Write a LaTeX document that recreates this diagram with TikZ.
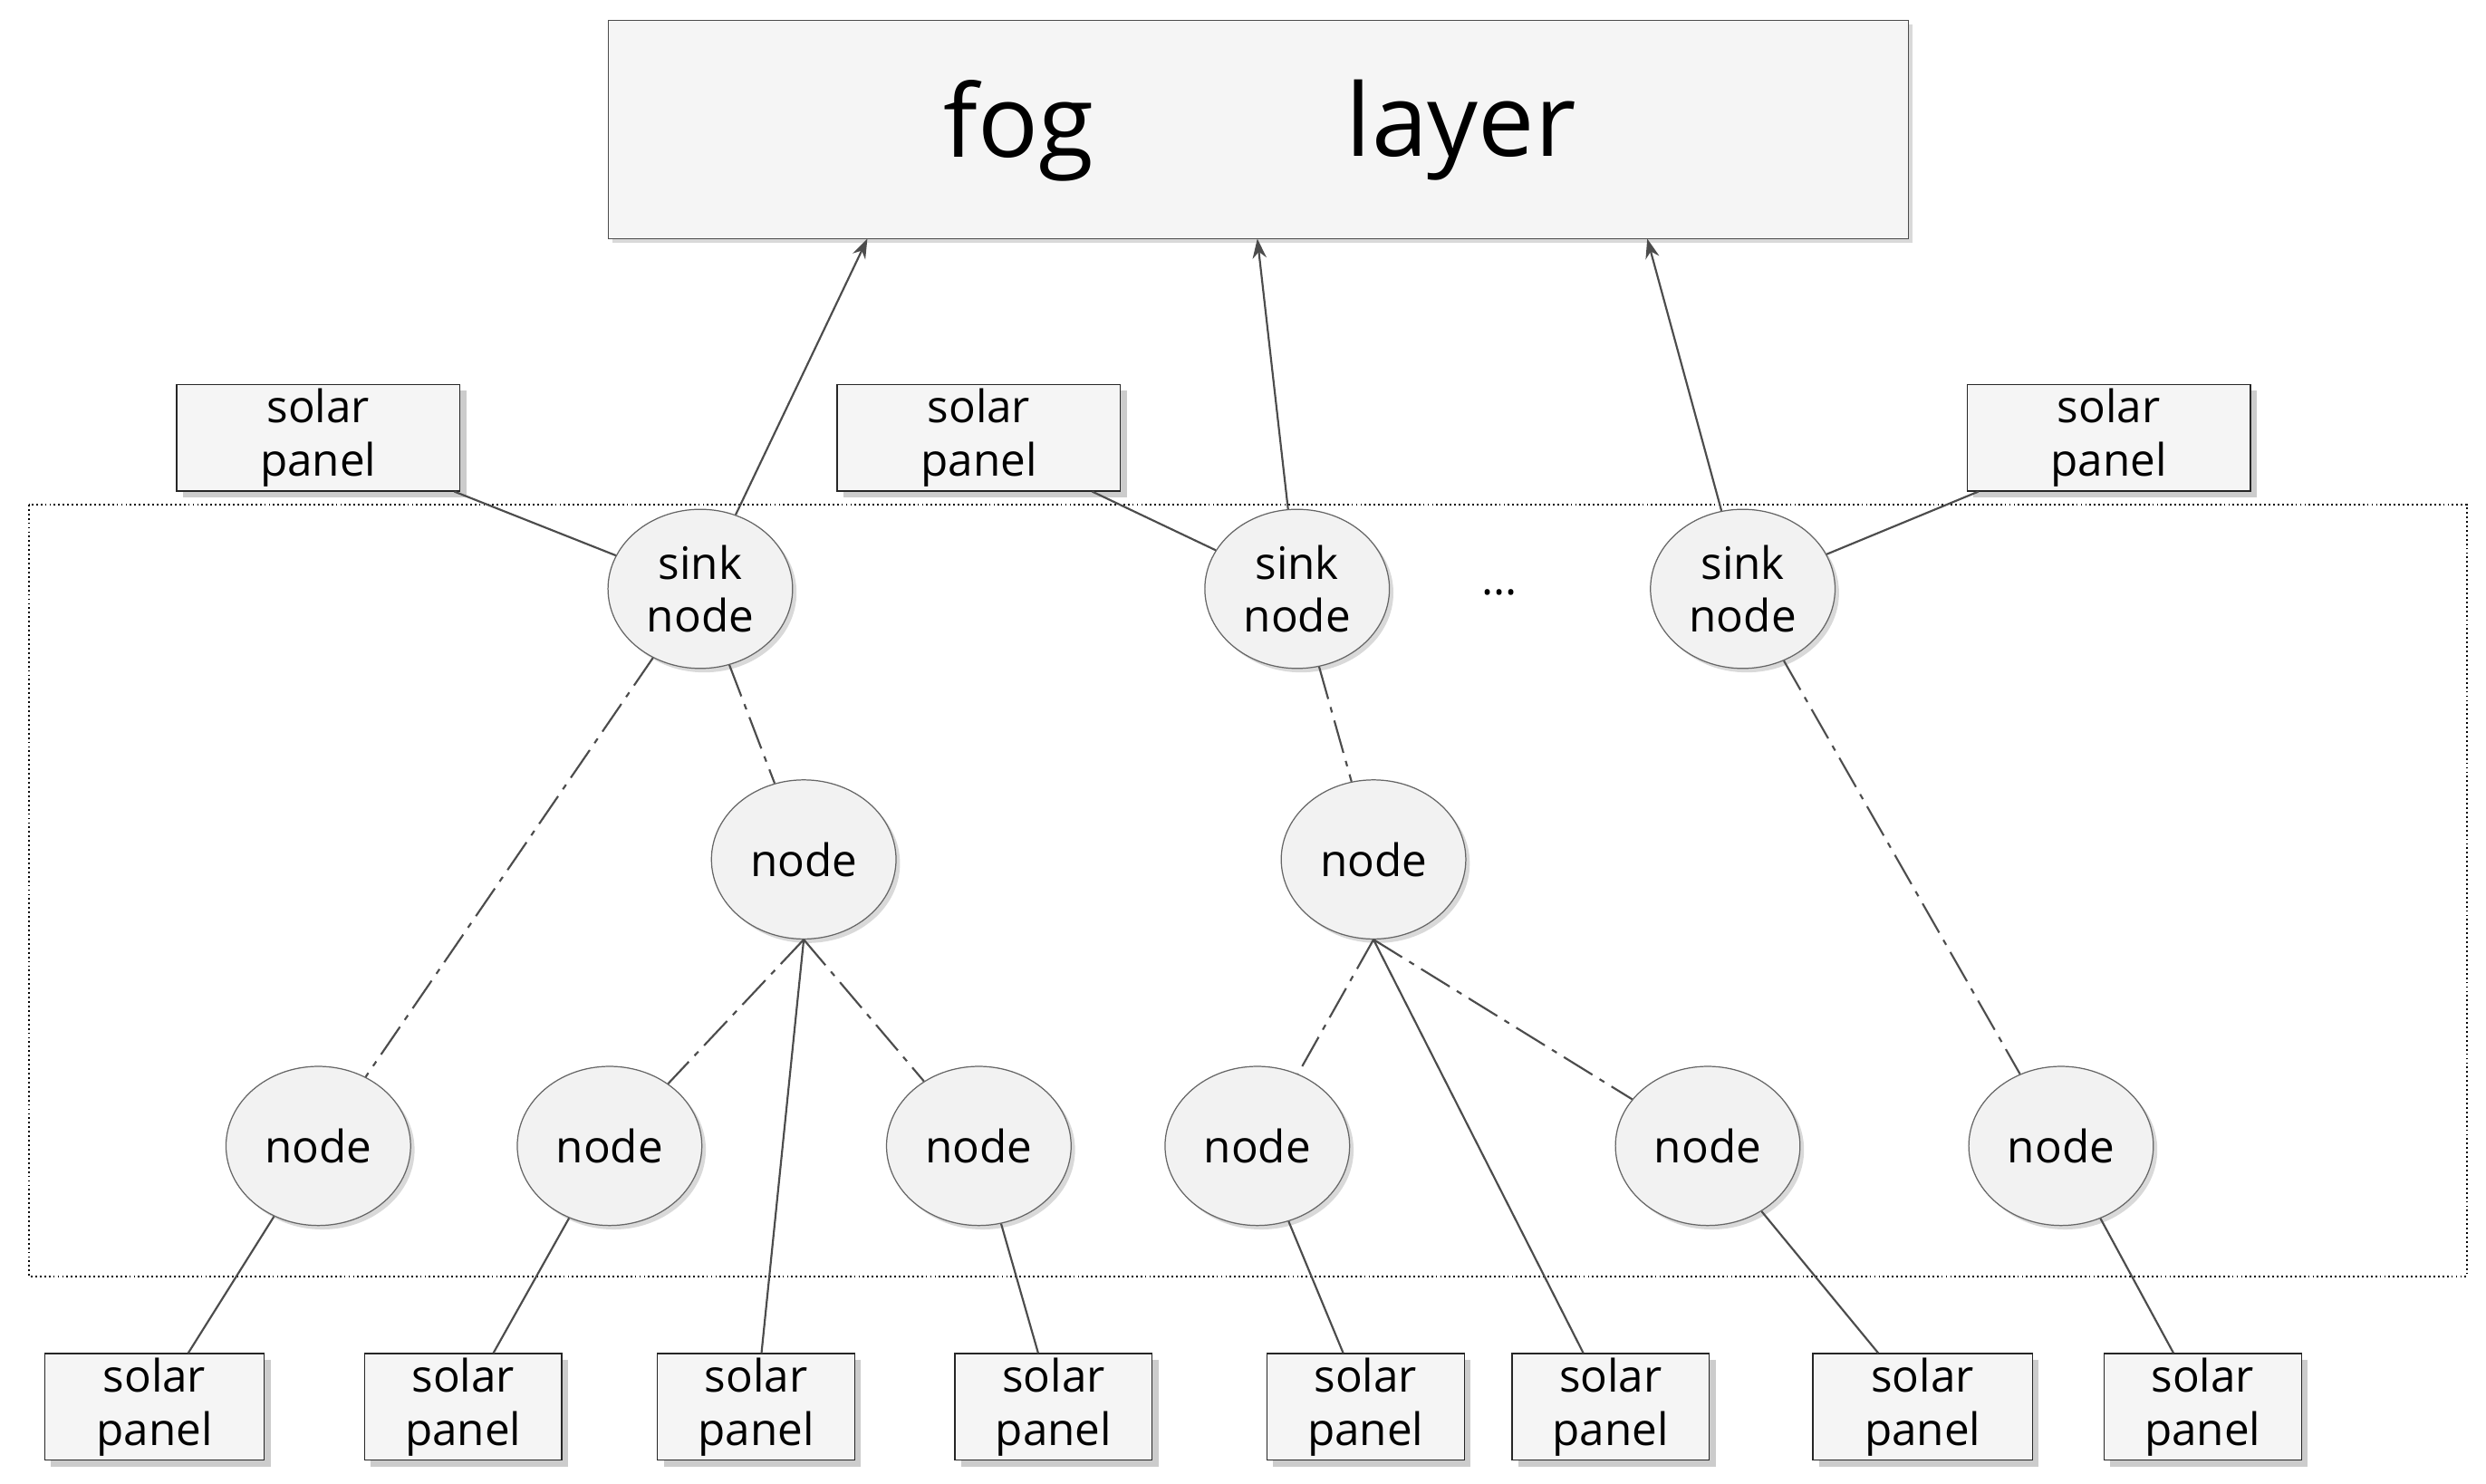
\documentclass[tikz,border=0pt]{standalone}
\usepackage{fontspec}
\setmainfont{Open Sans}
\usetikzlibrary{shapes.geometric,shadows,arrows.meta}
\begin{document}
\begin{tikzpicture}[x=0.02cm,y=-0.02cm,
  nd/.style={ellipse,draw=gray!80!black,fill=gray!10,inner sep=0pt,
     minimum width=2.32cm,minimum height=2.0cm,align=center,font=\fontsize{16}{19}\selectfont,
     drop shadow={shadow xshift=0.5mm,shadow yshift=-0.5mm,opacity=0.3}},
  sp/.style={rectangle,draw=gray!30!black,fill=gray!8,minimum height=1.34cm,inner sep=0pt,align=center,
     font=\fontsize{16}{19}\selectfont,
     drop shadow={shadow xshift=0.8mm,shadow yshift=-0.8mm,opacity=0.4}},
  sol/.style={draw=gray!60!black,line width=0.7pt},
  dd/.style={draw=gray!60!black,line width=0.7pt,dash pattern=on 12pt off 3pt on 2pt off 3pt},
  arr/.style={sol,-{Stealth[length=7pt,width=5pt]}}]
\useasboundingbox (0,0) rectangle (1562,932);
\node[rectangle,draw=gray!60!black,fill=gray!8,minimum width=16.34cm,minimum height=2.74cm,
  drop shadow={shadow xshift=0.5mm,shadow yshift=-0.5mm,opacity=0.3}] (fog) at (790.5,81.5) {};
\node[font=\fontsize{36}{36}\selectfont] (t1) at (640,82) {fog};
\node[font=\fontsize{36}{36}\selectfont] (t2) at (918,82) {layer};
\draw[densely dotted,line width=0.6pt] (18,317) rectangle (1550,802);
\coordinate (f1) at (545,150); \coordinate (f2) at (790,150); \coordinate (f3) at (1035,150);
\node[nd] (s1) at (440,370) {sink\\node};
\node[nd] (s2) at (815,370) {sink\\node};
\node[nd] (s3) at (1095,370) {sink\\node};
\node[font=\fontsize{16}{16}\selectfont] (dots) at (942,372) {...};
\node[nd] (m1) at (505,540) {node};
\node[nd] (m2) at (863,540) {node};
\node[nd] (b1) at (200,720) {node};
\node[nd] (b2) at (383,720) {node};
\node[nd] (b3) at (615,720) {node};
\node[nd] (b4) at (790,720) {node};
\node[nd] (b5) at (1073,720) {node};
\node[nd] (b6) at (1295,720) {node};
\node[sp,minimum width=3.56cm] (tp1) at (200,275) {solar\\panel};
\node[sp,minimum width=3.56cm] (tp2) at (615,275) {solar\\panel};
\node[sp,minimum width=3.56cm] (tp3) at (1325,275) {solar\\panel};
\node[sp,minimum width=2.76cm] (p1) at (97,884) {solar\\panel};
\node[sp,minimum width=2.48cm] (p2) at (291,884) {solar\\panel};
\node[sp,minimum width=2.48cm] (p3) at (475,884) {solar\\panel};
\node[sp,minimum width=2.48cm] (p4) at (662,884) {solar\\panel};
\node[sp,minimum width=2.48cm] (p5) at (858,884) {solar\\panel};
\node[sp,minimum width=2.48cm] (p6) at (1012,884) {solar\\panel};
\node[sp,minimum width=2.76cm] (p7) at (1208,884) {solar\\panel};
\node[sp,minimum width=2.48cm] (p8) at (1384,884) {solar\\panel};
\draw[arr] (s1) -- (f1);
\draw[arr] (s2) -- (f2);
\draw[arr] (s3) -- (f3);
\draw[sol] (tp1) -- (s1);
\draw[sol] (tp2) -- (s2);
\draw[sol] (tp3) -- (s3);
\draw[dd] (s1) -- (b1);
\draw[dd] (s1) -- (m1);
\draw[dd] (s2) -- (m2);
\draw[dd] (s3) -- (b6);
\draw[dd] (m1.south) -- (b2);
\draw[dd] (m1.south) -- (b3);
\draw[sol] (m1.south) -- (p3);
\draw[dd] (m2.south) -- (b4);
\draw[dd] (m2.south) -- (b5);
\draw[sol] (m2.south) -- (p6);
\draw[sol] (b1) -- (p1);
\draw[sol] (b2) -- (p2);
\draw[sol] (b3) -- (p4);
\draw[sol] (b4) -- (p5);
\draw[sol] (b5) -- (p7);
\draw[sol] (b6) -- (p8);
\end{tikzpicture}
\end{document}
